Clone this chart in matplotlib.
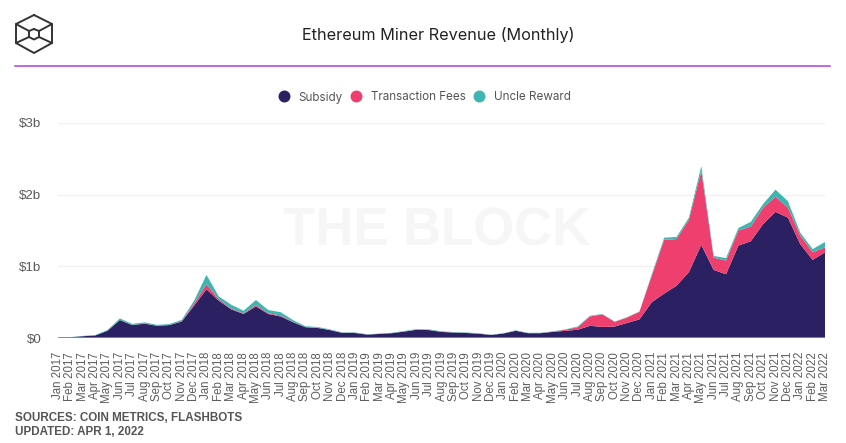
import matplotlib
matplotlib.use("Agg")
import matplotlib.pyplot as plt
from matplotlib.lines import Line2D

W, H = 846, 443
years = [2017, 2018, 2019, 2020, 2021, 2022]
month_names = ["Jan", "Feb", "Mar", "Apr", "May", "Jun", "Jul", "Aug", "Sep", "Oct", "Nov", "Dec"]
months = [f"{m} {y}" for y in years for m in month_names][:63]

subsidy = [.005, .01, .025, .035, .10, .25, .18, .20, .17, .18, .23, .45,
           .68, .52, .40, .335, .44, .335, .30, .22, .15, .14, .11, .07,
           .07, .047, .057, .067, .09, .115, .11, .085, .075, .07, .06, .042,
           .062, .10, .067, .067, .085, .10, .115, .17, .155, .16, .21, .26,
           .50, .62, .73, .92, 1.30, .95, .89, 1.29, 1.35, 1.59, 1.76, 1.68,
           1.31, 1.09, 1.195]
fees = [0, 0, 0, 0, 0, .003, .002, .002, .002, .002, .005, .03,
        .07, .02, .01, .01, .02, .01, .015, .005, .003, .003, .002, .002,
        .002, .001, .001, .001, .002, .002, .002, .002, .002, .002, .002, .001,
        .001, .002, .001, .002, .003, .015, .035, .13, .175, .065, .075, .105,
        .37, .75, .65, .73, 1.03, .17, .19, .21, .205, .23, .21, .14,
        .12, .105, .07]
uncle = [.001, .002, .004, .006, .012, .02, .015, .016, .012, .012, .018, .04,
         .13, .04, .055, .035, .07, .045, .045, .025, .012, .01, .008, .006,
         .006, .004, .004, .005, .006, .008, .008, .006, .006, .005, .004, .003,
         .004, .006, .004, .004, .005, .005, .01, .01, .005, .005, .005, .005,
         .02, .03, .03, .03, .07, .025, .035, .035, .065, .05, .10, .09,
         .04, .045, .075]
series_names = ["Subsidy", "Transaction Fees", "Uncle Reward"]
colors = ["#2b2162", "#ef3f6e", "#3eb5ae"]
y_ticks = [0, 1, 2, 3]
y_labels = ["$0", "$1b", "$2b", "$3b"]

fig = plt.figure(figsize=(W / 100, H / 100), dpi=100, facecolor="white")
ax = fig.add_axes([58 / W, 1 - 338 / H, (825 - 58) / W, (338 - 123) / H])
x = list(range(len(months)))
ax.stackplot(x, subsidy, fees, uncle, colors=colors, linewidth=0, zorder=3)
ax.set_xlim(0, 62)
ax.set_ylim(0, 3)
ax.set_yticks(y_ticks)
ax.set_yticklabels(y_labels, family="Liberation Sans", fontsize=9.6, color="#5c5c5c")
ax.set_xticks(x)
ax.set_xticklabels(months, rotation=90, family="Liberation Sans", fontsize=8.3, color="#5c5c5c")
ax.tick_params(length=0, axis="both")
ax.tick_params(axis="x", pad=10)
ax.tick_params(axis="y", pad=12)
ax.grid(axis="y", color="#f0f0f0", linewidth=1, zorder=0)
ax.set_axisbelow(True)
for s in ax.spines.values():
    s.set_visible(False)
ax.axhline(0, color="#8d8a9e", linewidth=1.2, zorder=4)

ax.text(437 / W, 1 - 231 / H, "THE BLOCK", transform=fig.transFigure, ha="center", va="center",
        family="Liberation Sans", weight="bold", fontsize=38, color="#f6f6f6", zorder=1)

fig.text(438 / W, 1 - 35 / H, "Ethereum Miner Revenue (Monthly)", ha="center", va="center",
         family="Inter", fontsize=11.7, color="#222222")
fig.add_artist(Line2D([15 / W, 830 / W], [1 - 65.5 / H] * 2, color="#b23fd6", linewidth=1.1))

# Legend, laid out by hand
legend_y = 1 - 96 / H
for name, col, dot_x in zip(series_names, colors, [283.5, 356, 479]):
    fig.add_artist(Line2D([dot_x / W], [legend_y], marker="o", markersize=8.6, color=col,
                          linestyle="none", markeredgewidth=0))
    fig.text((dot_x + 14.5) / W, legend_y, name, ha="left", va="center_baseline", family="Inter",
             fontsize=8.4, color="#555555")

# Logo
logo = dict(color="#333333", linewidth=1.4, solid_capstyle="round", solid_joinstyle="round")
hexagon = [(34, 15), (52, 24), (52, 43), (34, 53), (16, 43), (16, 24), (34, 15)]
inner = [(34, 29), (39, 31), (39, 37), (34, 39.5), (29, 37), (29, 31), (34, 29)]
for pts in [hexagon, inner]:
    fig.add_artist(Line2D([p[0] / W for p in pts], [1 - p[1] / H for p in pts], **logo))
for a, b in [((52, 24), (39, 31)), ((16, 24), (29, 31)),
             ((52, 43), (39, 37)), ((16, 43), (29, 37))]:
    fig.add_artist(Line2D([a[0] / W, b[0] / W], [1 - a[1] / H, 1 - b[1] / H], **logo))

fig.text(15 / W, 1 - 418 / H, "SOURCES: COIN METRICS, FLASHBOTS", ha="left", va="center",
         family="Liberation Sans", weight="bold", fontsize=8.4, color="#555555")
fig.text(15 / W, 1 - 432 / H, "UPDATED: APR 1, 2022", ha="left", va="center",
         family="Liberation Sans", weight="bold", fontsize=8.4, color="#555555")

fig.savefig("out.png", dpi=100)
